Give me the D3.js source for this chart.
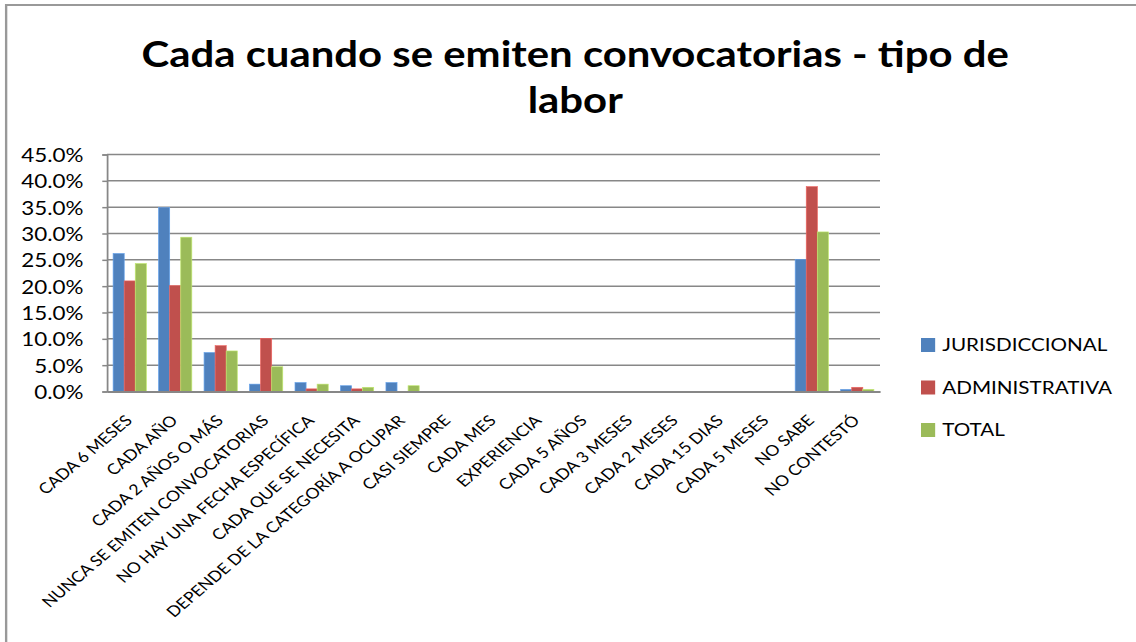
<!DOCTYPE html>
<html lang="es">
<head>
<meta charset="utf-8">
<title>Cada cuando se emiten convocatorias - tipo de labor</title>
<script src="https://cdn.jsdelivr.net/npm/d3@7"></script>
<style>
  html, body { margin: 0; padding: 0; background: #fff; }
  svg { display: block; }
  text { font-family: Lato, "Open Sans", "Noto Sans", sans-serif; fill: #000; }
</style>
</head>
<body>
<svg id="chart"></svg>
<script>
// Categories (x axis) and series values in percent
const categories = [
  "CADA 6 MESES", "CADA AÑO", "CADA 2 AÑOS O MÁS", "NUNCA SE EMITEN CONVOCATORIAS",
  "NO HAY UNA FECHA ESPECÍFICA", "CADA QUE SE NECESITA", "DEPENDE DE LA CATEGORÍA A OCUPAR",
  "CASI SIEMPRE", "CADA MES", "EXPERIENCIA", "CADA 5 AÑOS", "CADA 3 MESES",
  "CADA 2 MESES", "CADA 15 DIAS", "CADA 5 MESES", "NO SABE", "NO CONTESTÓ"
];
const jurisdiccional = [26.2, 34.9, 7.4, 1.4, 1.7, 1.1, 1.7, 0, 0, 0, 0, 0, 0, 0, 0, 25.1, 0.4];
const administrativa = [21.0, 20.1, 8.7, 10.1, 0.5, 0.5, 0, 0, 0, 0, 0, 0, 0, 0, 0, 38.9, 0.8];
const total          = [24.3, 29.3, 7.7, 4.7, 1.4, 0.8, 1.1, 0, 0, 0, 0, 0, 0, 0, 0, 30.3, 0.4];

const seriesNames  = ["JURISDICCIONAL", "ADMINISTRATIVA", "TOTAL"];
const seriesColors = ["#4F81BD", "#C0504D", "#9BBB59"];
const yTicks = [0, 5, 10, 15, 20, 25, 30, 35, 40, 45];
const titleLines = ["Cada cuando se emiten convocatorias - tipo de", "labor"];

// The drawing is laid out on a narrower canvas and widened to the page
const PAGE_W = 1136, PAGE_H = 642, SX = 1.18;
const W = PAGE_W / SX, H = PAGE_H;

const svg = d3.select("#chart")
  .attr("width", PAGE_W).attr("height", PAGE_H)
  .attr("viewBox", `0 0 ${W} ${H}`)
  .attr("preserveAspectRatio", "none");

// outer frame
svg.append("rect")
  .attr("x", 5.2).attr("y", 5).attr("width", W + 20).attr("height", H + 20)
  .attr("fill", "#fff").attr("stroke", "#999").attr("stroke-width", 2);

const plot = { left: 107 / SX, right: 880 / SX, top: 154.5, bottom: 391.5 };

const series = seriesNames.map((name, i) => ({
  name, color: seriesColors[i], values: [jurisdiccional, administrativa, total][i]
}));

const x0 = d3.scaleBand().domain(categories)
  .range([plot.left, plot.right]).paddingInner(0.27).paddingOuter(0.135);
const x1 = d3.scaleBand().domain(seriesNames).range([0, x0.bandwidth()]);
const y = d3.scaleLinear().domain([0, 45]).range([plot.bottom, plot.top]);

// title
const title = svg.append("text")
  .attr("text-anchor", "middle")
  .style("font-weight", "bold").style("font-size", "35.5px");
titleLines.forEach((t, i) => {
  title.append("tspan").attr("x", 487.5).attr("y", 67 + i * 46).text(t);
});

// y axis with tick marks
const yAxis = d3.axisLeft(y).tickValues(yTicks).tickSize(4)
  .tickFormat(d => d.toFixed(1) + "%");
const gy = svg.append("g").attr("transform", `translate(${plot.left},0)`).call(yAxis);
gy.select(".domain").attr("stroke", "#878787").attr("stroke-width", 1.5);
gy.selectAll(".tick line").attr("stroke", "#878787").attr("stroke-width", 1.5);
gy.selectAll(".tick text")
  .attr("x", -20).attr("dy", "0.36em")
  .style("font-size", "19px").style("font-family", "Lato, 'Open Sans', sans-serif")
  .attr("fill", "#000");

// horizontal gridlines
svg.append("g").selectAll("line")
  .data(yTicks.slice(1))
  .join("line")
  .attr("x1", plot.left).attr("x2", plot.right)
  .attr("y1", d => y(d)).attr("y2", d => y(d))
  .attr("stroke", "#878787").attr("stroke-width", 1.5);

// bars
const groups = svg.append("g").selectAll("g")
  .data(categories)
  .join("g")
  .attr("transform", d => `translate(${x0(d)},0)`);

groups.selectAll("rect")
  .data((d, ci) => series.map(s => ({ name: s.name, color: s.color, v: s.values[ci] })))
  .join("rect")
  .attr("x", d => x1(d.name))
  .attr("width", x1.bandwidth())
  .attr("y", d => y(d.v))
  .attr("height", d => plot.bottom - y(d.v))
  .attr("fill", d => d.color)
  .attr("stroke", d => d3.color(d.color).brighter(0.6))
  .attr("stroke-width", 0.6);

// x axis with rotated category labels
const xAxis = d3.axisBottom(x0).tickSize(0);
const gx = svg.append("g").attr("transform", `translate(0,${plot.bottom})`).call(xAxis);
gx.select(".domain").attr("stroke", "#878787").attr("stroke-width", 1.8);
gx.selectAll(".tick text")
  .attr("text-anchor", "end")
  .attr("y", 0).attr("dy", 0)
  .attr("transform", "translate(3,30) rotate(-45)")
  .style("font-size", "15px").style("font-family", "Lato, 'Open Sans', sans-serif")
  .attr("fill", "#000");

// legend
const legend = svg.append("g");
const legendRows = legend.selectAll("g")
  .data(series)
  .join("g")
  .attr("transform", (d, i) => `translate(${921 / SX},${345 + i * 42.5})`);
legendRows.append("rect")
  .attr("x", 0).attr("y", -7).attr("width", 12).attr("height", 14)
  .attr("fill", d => d.color);
legendRows.append("text")
  .attr("x", 18).attr("dy", "0.36em")
  .style("font-size", "17.5px")
  .text(d => d.name);
</script>
</body>
</html>
